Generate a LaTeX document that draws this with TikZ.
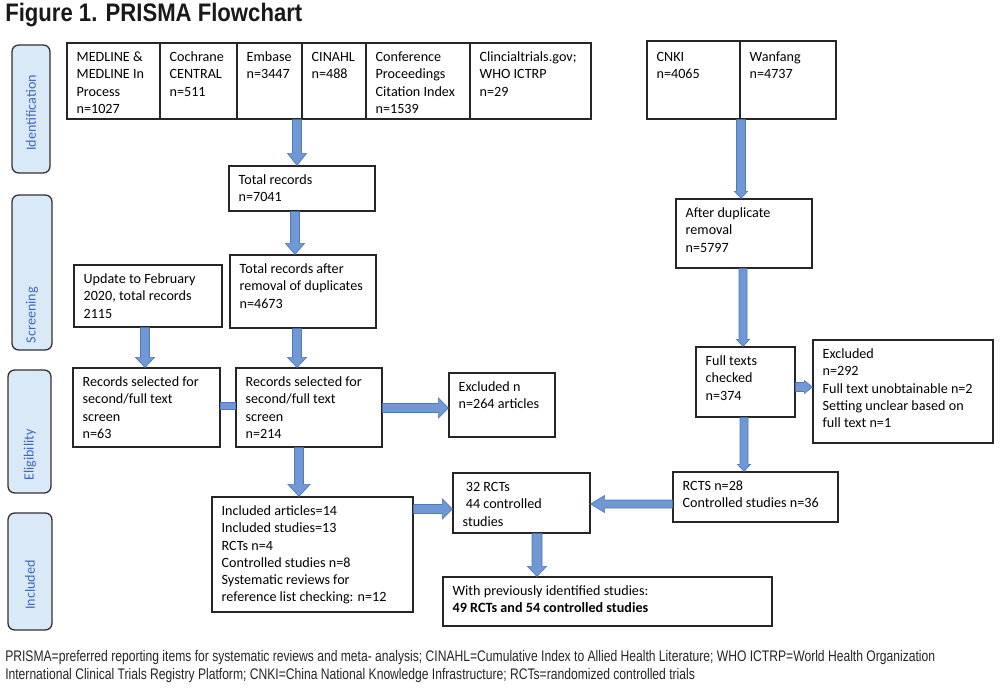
\documentclass[tikz,border=0pt]{standalone}
\usepackage{fontspec}
\usepackage{graphicx}
\setmainfont{Carlito}
\newfontfamily\arialfont{Liberation Sans}
\usetikzlibrary{calc,fit}
\definecolor{afill}{RGB}{111,152,212}
\definecolor{aline}{RGB}{80,120,188}
\definecolor{lblfill}{RGB}{218,233,248}
\definecolor{lbltext}{RGB}{60,106,190}
\definecolor{lblline}{RGB}{50,50,50}
\newsavebox\footAbox
\newlength\footw
\newcommand\footAtext{PRISMA=preferred reporting items for systematic reviews and meta- analysis; CINAHL=Cumulative Index to Allied Health Literature; WHO ICTRP=World Health Organization}
\newcommand\footBtext{International Clinical Trials Registry Platform; CNKI=China National Knowledge Infrastructure; RCTs=randomized controlled trials}
\newcommand\footfont{\arialfont\fontsize{11.5}{13.6}\selectfont}
\tikzset{
  box/.style={draw=black!85, line width=0.9pt, inner sep=0pt},
  tx/.style={inner sep=0pt, anchor=north west, align=left, font=\fontsize{10.6}{12.9}\selectfont},
  lbl/.style={draw=lblline, fill=lblfill, line width=1pt, rounded corners=5pt, inner sep=0pt},
  lbltx/.style={rotate=90, text=lbltext, font=\fontsize{10.6}{12.9}\selectfont, inner sep=0pt},
  blockarrow/.style={fill=afill, draw=aline, line width=0.5pt, line join=miter},
}
% box: name, x1, y1, x2, y2, text
\newcommand\bx[6]{%
  \node[box, fit={(#2,#3) (#4,#5)}] (#1) {};
  \node[tx] (#1t) at ($(#1.north west)+(10,7)$) {\strut #6};
}
% down arrow: from, to, x, shaft half, head half, head length
\newcommand\blkdown[6]{%
  \coordinate (ax) at (#3,0);
  \coordinate (as) at (ax |- #1.south);
  \coordinate (ae) at (ax |- #2.north);
  \filldraw[blockarrow] ($(as)+(-#4,0)$) -- ($(ae)+(-#4,-#6)$) -- ($(ae)+(-#5,-#6)$) -- (ae)
     -- ($(ae)+(#5,-#6)$) -- ($(ae)+(#4,-#6)$) -- ($(as)+(#4,0)$) -- cycle;
}
% right arrow: from, to, y, shaft half, head half, head length
\newcommand\blkright[6]{%
  \coordinate (ay) at (0,#3);
  \coordinate (as) at (#1.east |- ay);
  \coordinate (ae) at (#2.west |- ay);
  \filldraw[blockarrow] ($(as)+(0,-#4)$) -- ($(ae)+(-#6,-#4)$) -- ($(ae)+(-#6,-#5)$) -- (ae)
     -- ($(ae)+(-#6,#5)$) -- ($(ae)+(-#6,#4)$) -- ($(as)+(0,#4)$) -- cycle;
}
% left arrow: from, to, y, shaft half, head half, head length
\newcommand\blkleft[6]{%
  \coordinate (ay) at (0,#3);
  \coordinate (as) at (#1.west |- ay);
  \coordinate (ae) at (#2.east |- ay);
  \filldraw[blockarrow] ($(as)+(0,-#4)$) -- ($(ae)+(#6,-#4)$) -- ($(ae)+(#6,-#5)$) -- (ae)
     -- ($(ae)+(#6,#5)$) -- ($(ae)+(#6,#4)$) -- ($(as)+(0,#4)$) -- cycle;
}
\begin{document}
\sbox\footAbox{\footfont\footAtext}%
\setlength\footw{\wd\footAbox}%
\pgfmathsetmacro\fscale{697.5pt/\footw}%
\begin{tikzpicture}[x=0.75pt, y=-0.75pt]
\useasboundingbox (0,0) rectangle (1000,688);
\fill[white] (0,0) rectangle (1000,688);

% title
\node[anchor=base west, inner sep=0pt, text=black!90] (title) at (5,22)
  {\resizebox{222.75pt}{\height}{\arialfont\bfseries\fontsize{19}{22}\selectfont Figure 1. PRISMA Flowchart}};

% side labels
\node[lbl, fit={(12,45) (50,173)}] (lid) {};
\node[lbltx] (lidt) at (31,113) {Identification};
\node[lbl, fit={(12,195) (52,350)}] (lsc) {};
\node[lbltx] (lsct) at (32,315) {Screening};
\node[lbl, fit={(8,370) (51,493)}] (lel) {};
\node[lbltx] (lelt) at (30,455) {Eligibility};
\node[lbl, fit={(8,513) (52,630)}] (lin) {};
\node[lbltx] (lint) at (30,585) {Included};

% top row
\bx{med}{67}{43}{160}{119}{MEDLINE \&\\MEDLINE In\\Process\\n=1027}
\bx{coch}{160}{43}{237}{119}{Cochrane\\CENTRAL\\n=511}
\bx{emb}{237}{43}{302}{119}{Embase\\n=3447}
\bx{cin}{302}{43}{366}{119}{CINAHL\\n=488}
\bx{conf}{366}{43}{470}{119}{Conference\\Proceedings\\Citation Index\\n=1539}
\bx{clin}{470}{43}{591}{119}{Clincialtrials.gov;\\WHO ICTRP\\n=29}

\node[box, fit={(647,41) (740,119)}] (cnki) {};
\node[tx] (cnkit) at ($(cnki.north west)+(10,9)$) {\strut CNKI\\n=4065};
\node[box, fit={(740,41) (836,119)}] (wan) {};
\node[tx] (want) at ($(wan.north west)+(10,9)$) {\strut Wanfang\\n=4737};

% left column
\bx{tot}{229}{166}{375}{211}{Total records\\n=7041}
\bx{rem}{230}{255}{376}{328}{Total records after\\removal of duplicates\\n=4673}
\bx{upd}{74}{265}{222}{327}{Update to February\\2020, total records\\2115}
\bx{recL}{73}{368}{220}{447}{Records selected for\\second/full text\\screen\\n=63}
\bx{recM}{236}{368}{382}{447}{Records selected for\\second/full text\\screen\\n=214}
\bx{exN}{449}{373}{555}{437}{Excluded n\\n=264 articles}
\bx{inc}{212}{497}{413}{612}{Included articles=14\\Included studies=13\\RCTs n=4\\Controlled studies n=8\\Systematic reviews for\\reference list checking: n=12}
\bx{rtt}{453}{473}{590}{533}{\ 32 RCTs\\\ 44 controlled\\studies}
\bx{fin}{443}{577}{772}{626}{With previously identified studies:\\\textbf{49 RCTs and 54 controlled studies}}

% right column
\bx{aft}{676}{199}{812}{268}{After duplicate\\removal\\n=5797}
\bx{full}{696}{347}{795}{417}{Full texts\\checked\\n=374}
\bx{exR}{813}{340}{993}{443}{Excluded\\n=292\\Full text unobtainable n=2\\Setting unclear based on\\full text n=1}
\bx{rcts}{673}{472}{838}{522}{RCTS n=28\\Controlled studies n=36}

% arrows
\blkdown{emb}{tot}{297}{4.5}{9.5}{12}
\blkdown{tot}{rem}{295}{4.5}{9.5}{11}
\blkdown{upd}{recL}{145}{4.5}{9.5}{10}
\blkdown{rem}{recM}{297}{4.5}{9.5}{10}
\blkright{recM}{exN}{408}{4.5}{10}{10}
\blkdown{recM}{inc}{299}{4.5}{11}{12}
\blkright{inc}{rtt}{509}{4.5}{10}{10}
\blkleft{rcts}{rtt}{504}{4}{8.5}{14}
\blkdown{rtt}{fin}{537}{5}{9.5}{10}

\blkdown{cnki}{aft}{741}{4.5}{6.5}{7}
\blkdown{aft}{full}{743}{4}{6.5}{7}
\blkright{full}{exR}{387}{4.5}{6.5}{8}
\blkdown{full}{rcts}{744}{4}{6.5}{7}

% connector between the two record boxes
\coordinate (cy1) at (0,402);
\coordinate (cy2) at (0,409);
\filldraw[blockarrow] (recL.east |- cy1) rectangle (recM.west |- cy2);

% footer
\node[anchor=base west, inner sep=0pt, text=black!85] (foot1) at (5,661)
  {\scalebox{\fscale}[1]{\footfont\footAtext}};
\node[anchor=base west, inner sep=0pt, text=black!85] (foot2) at (5,679)
  {\scalebox{\fscale}[1]{\footfont\footBtext}};
\end{tikzpicture}
\end{document}
